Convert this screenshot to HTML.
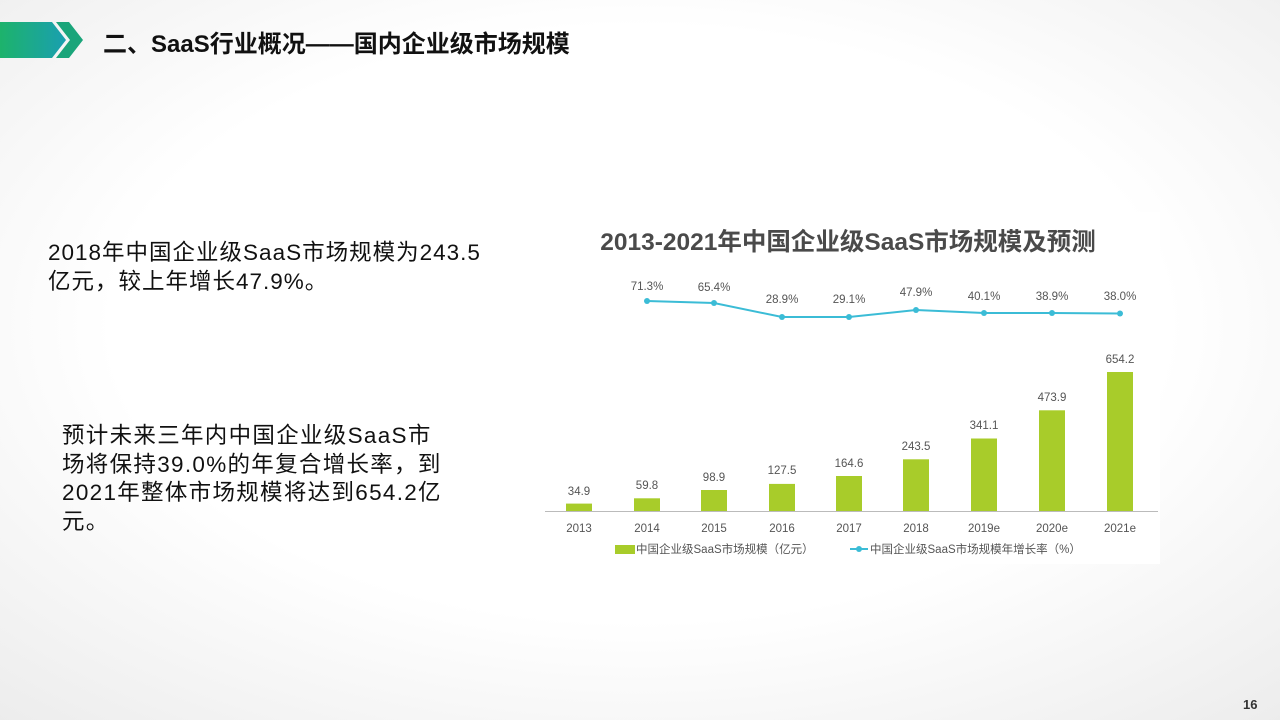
<!DOCTYPE html>
<html><head><meta charset="utf-8"><style>
html,body{margin:0;padding:0}
body{width:1280px;height:720px;overflow:hidden;position:relative;background:radial-gradient(ellipse 75% 75% at 50% 45%,#ffffff 55%,#ececec 100%);font-family:"Liberation Sans","Noto Sans CJK SC",sans-serif}
.t{position:absolute;white-space:nowrap}
</style></head><body>
<svg class="t" style="left:0;top:0" width="100" height="70">
<defs><linearGradient id="g" x1="0" x2="1"><stop offset="0" stop-color="#1db36b"/><stop offset="1" stop-color="#1a9fb0"/></linearGradient></defs>
<polygon points="0,22 52,22 66,40 52,58 0,58" fill="url(#g)"/>
<polygon points="56,22 69,22 83,40 69,58 56,58 70,40" fill="#1aa57a"/>
</svg>
<div class="t" style="left:103px;top:24px;font-size:24px;font-weight:bold;color:#111">二、SaaS行业概况——国内企业级市场规模</div>
<div class="t" style="left:48px;top:238px;font-size:22.5px;letter-spacing:1px;line-height:29px;color:#111">2018年中国企业级SaaS市场规模为243.5<br>亿元，较上年增长47.9%。</div>
<div class="t" style="left:62px;top:422px;font-size:22.5px;letter-spacing:1.3px;line-height:28.5px;color:#111">预计未来三年内中国企业级SaaS市<br>场将保持39.0%的年复合增长率，到<br>2021年整体市场规模将达到654.2亿<br>元。</div>
<svg class="t" style="left:0;top:0" width="1280" height="720" font-family="Liberation Sans, Noto Sans CJK SC, sans-serif">
<rect x="545" y="212" width="615" height="352" fill="#fff"/>
<text x="848" y="250" font-size="24.5" font-weight="bold" fill="#4a4a4a" text-anchor="middle">2013-2021年中国企业级SaaS市场规模及预测</text>
<line x1="545" y1="511.5" x2="1158" y2="511.5" stroke="#bbb" stroke-width="1"/>
<g fill="#a8cc2a">
<rect x="566" y="503.6" width="26" height="7.4"/>
<rect x="634" y="498.3" width="26" height="12.7"/>
<rect x="701" y="490" width="26" height="21"/>
<rect x="769" y="483.9" width="26" height="27.1"/>
<rect x="836" y="476" width="26" height="35"/>
<rect x="903" y="459.3" width="26" height="51.7"/>
<rect x="971" y="438.5" width="26" height="72.5"/>
<rect x="1039" y="410.3" width="26" height="100.7"/>
<rect x="1107" y="372" width="26" height="139"/>
</g>
<g font-size="11.5" fill="#555" text-anchor="middle">
<text x="579" y="495">34.9</text><text x="647" y="489">59.8</text><text x="714" y="481">98.9</text><text x="782" y="474">127.5</text><text x="849" y="467">164.6</text><text x="916" y="450">243.5</text><text x="984" y="429">341.1</text><text x="1052" y="401">473.9</text><text x="1120" y="363">654.2</text>
<text x="579" y="532">2013</text><text x="647" y="532">2014</text><text x="714" y="532">2015</text><text x="782" y="532">2016</text><text x="849" y="532">2017</text><text x="916" y="532">2018</text><text x="984" y="532">2019e</text><text x="1052" y="532">2020e</text><text x="1120" y="532">2021e</text>
<text x="647" y="290">71.3%</text><text x="714" y="291">65.4%</text><text x="782" y="303">28.9%</text><text x="849" y="303">29.1%</text><text x="916" y="296">47.9%</text><text x="984" y="300">40.1%</text><text x="1052" y="300">38.9%</text><text x="1120" y="300">38.0%</text>
</g>
<polyline points="647,301 714,303 782,317 849,317 916,310 984,313 1052,313 1120,313.5" fill="none" stroke="#3bbcd6" stroke-width="2"/>
<g fill="#3bbcd6"><circle cx="647" cy="301" r="3"/><circle cx="714" cy="303" r="3"/><circle cx="782" cy="317" r="3"/><circle cx="849" cy="317" r="3"/><circle cx="916" cy="310" r="3"/><circle cx="984" cy="313" r="3"/><circle cx="1052" cy="313" r="3"/><circle cx="1120" cy="313.5" r="3"/></g>
<rect x="615" y="545" width="20" height="9" fill="#a8cc2a"/>
<text x="636" y="553" font-size="11.5" fill="#555">中国企业级SaaS市场规模（亿元）</text>
<line x1="850" y1="549" x2="868" y2="549" stroke="#3bbcd6" stroke-width="2"/><circle cx="859" cy="549" r="3" fill="#3bbcd6"/>
<text x="870" y="553" font-size="11.5" fill="#555">中国企业级SaaS市场规模年增长率（%）</text>
</svg>
<div class="t" style="left:1243px;top:697px;font-size:13px;font-weight:bold;color:#333">16</div>
</body></html>
